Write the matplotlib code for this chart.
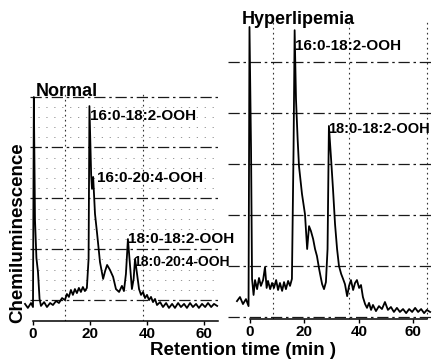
import matplotlib
matplotlib.use("Agg")
import matplotlib.pyplot as plt
import numpy as np

plt.rcParams['font.family'] = ['Liberation Sans', 'DejaVu Sans']
plt.rcParams['font.weight'] = 'bold'

# ---------------- data ----------------
normal_time = [-2.8, -1.8, -0.7, 0.0, 0.3, 0.7, 1.2, 1.75, 2.3, 2.8,
               3.9, 4.9, 6.0, 7.0, 8.1, 9.1, 10.2, 11.2, 11.9, 12.6,
               13.3, 14.0, 14.7, 15.4, 16.1, 16.8, 17.5, 18.2, 18.9, 19.5,
               19.8, 20.4, 20.7, 21.1, 21.75, 22.5, 23.5, 24.6, 25.3, 26.0,
               27.0, 28.1, 29.1, 30.2, 31.2, 31.9, 32.6, 33.3, 34.0, 34.7,
               35.3, 35.8, 36.5, 37.2, 37.9, 38.6, 39.3, 40.0, 40.7, 41.4,
               42.1, 42.8, 43.5, 44.6, 45.6, 46.7, 47.7, 48.8, 49.8, 50.9,
               51.9, 53.0, 54.0, 55.1, 56.1, 57.2, 58.2, 59.3, 60.4, 61.4,
               62.5, 63.5, 64.6]
normal_signal = [7.6, 5.8, 8.0, 6.2, 99.5, 45.0, 28.0, 21.8, 9.8, 6.7,
                 8.4, 6.2, 8.0, 7.1, 8.9, 8.0, 10.2, 9.3, 12.0, 10.7,
                 13.8, 11.6, 14.2, 12.4, 14.7, 12.9, 15.1, 13.3, 14.7, 27.6,
                 95.5, 65.0, 58.7, 64.0, 47.6, 38.7, 26.2, 18.7, 22.2, 24.9,
                 22.7, 19.6, 14.2, 12.9, 15.6, 13.3, 20.9, 36.4, 25.3, 14.2,
                 18.7, 27.6, 20.9, 14.2, 11.6, 12.9, 10.2, 11.6, 9.3, 10.7,
                 8.4, 9.8, 7.1, 8.4, 6.2, 8.0, 5.8, 7.6, 5.8, 8.0,
                 6.2, 7.6, 5.8, 8.0, 6.2, 7.6, 5.8, 7.6, 6.2, 8.0,
                 6.2, 7.6, 6.7]

hyper_time = [-4.8, -3.7, -2.6, -1.5, -0.55, -0.2, 0.37, 0.74, 1.3, 1.84,
              2.6, 3.3, 4.0, 4.8, 5.5, 6.1, 6.6, 7.4, 8.1, 8.8,
              9.6, 10.3, 11.0, 11.8, 12.5, 13.2, 14.0, 14.7, 15.4, 16.0,
              16.4, 16.9, 17.5, 18.0, 19.1, 20.2, 21.0, 21.7, 22.4, 23.2,
              23.9, 24.6, 25.4, 25.9, 26.5, 27.2, 27.9, 28.5, 29.0, 29.8,
              30.5, 31.25, 32.0, 32.7, 33.5, 34.2, 34.9, 35.7, 36.4, 37.1,
              37.9, 38.6, 39.3, 40.1, 40.8, 41.5, 42.3, 43.0, 43.75, 44.5,
              45.2, 46.3, 47.4, 48.5, 49.6, 50.7, 51.8, 52.9, 54.0, 55.1,
              56.25, 57.4, 58.5, 59.6, 60.7, 61.8, 62.9, 64.0, 65.0, 66.2]
hyper_signal = [6.1, 7.5, 5.1, 6.8, 4.4, 99.7, 58.0, 13.7, 8.2, 13.3,
                10.2, 14.0, 11.3, 13.3, 17.7, 10.6, 13.0, 10.2, 12.3, 10.6,
                13.3, 9.9, 12.3, 9.6, 12.6, 10.2, 13.0, 11.3, 13.7, 58.0,
                98.6, 75.0, 61.4, 52.2, 42.7, 35.8, 23.9, 31.7, 30.0, 27.3,
                23.9, 21.5, 17.1, 14.7, 11.9, 10.2, 12.6, 23.9, 65.9, 54.6,
                44.4, 32.4, 23.9, 18.1, 15.4, 13.7, 11.9, 7.8, 11.3, 13.3,
                9.9, 12.3, 13.3, 10.6, 11.6, 7.5, 5.1, 3.8, 5.5, 3.1,
                4.8, 2.7, 4.4, 3.4, 5.8, 3.1, 4.1, 2.4, 3.8, 2.4,
                3.4, 2.0, 3.4, 2.4, 3.8, 2.4, 3.4, 2.0, 3.1, 2.4]

x_ticks = [0, 20, 40, 60]
panel_titles = ["Normal", "Hyperlipemia"]
normal_peaks = ["16:0-18:2-OOH", "16:0-20:4-OOH", "18:0-18:2-OOH", "18:0-20:4-OOH"]
hyper_peaks = ["16:0-18:2-OOH", "18:0-18:2-OOH"]

# ---------------- figure ----------------
W, H = 432, 363
fig = plt.figure(figsize=(W / 100, H / 100), dpi=100)


def fax(l, t, r, b):
    return fig.add_axes([l / W, 1 - b / H, (r - l) / W, (b - t) / H])


def ftext(x, y, s, size, **kw):
    fig.text(x / W, 1 - y / H, s, fontsize=size, fontweight='bold',
             va='baseline', ha=kw.pop('ha', 'left'), **kw)


ax1 = fax(30, 91, 220, 321)
ax2 = fax(228, 22, 432, 319)

ax1.set_xlim(-1.05, 65.6)
ax1.set_ylim(0, 102.2)
ax2.set_xlim(-8.1, 66.9)
ax2.set_ylim(0, 101.4)

grid_major = dict(color='#1a1a1a', linewidth=0.9, linestyle=(0, (9, 3, 2, 3)))
grid_minor = dict(color='#555555', linewidth=0.6, linestyle=(0, (1.5, 8)),
                  alpha=0.7)
grid_vert = dict(color='#333333', linewidth=0.8, linestyle=(0, (1.5, 3)))

for ax, ymaj, yminstep, vlines in [
        (ax1, np.arange(9.3, 101, 22.6), 4.52, [11.2, 38.6]),
        (ax2, np.arange(0.7, 90, 17.4), 17.4, [8.5, 36.4, 65.0])]:
    for s in ['top', 'left', 'right']:
        ax.spines[s].set_visible(False)
    ax.spines['bottom'].set_linewidth(1.1)
    ax.spines['bottom'].set_bounds(0, 65)
    ax.set_yticks(ymaj)
    ax.set_yticks(np.arange(ymaj[0], ymaj[-1], yminstep), minor=True)
    ax.yaxis.grid(True, which='major', **grid_major)
    ax.yaxis.grid(True, which='minor', **grid_minor)
    ax.tick_params(axis='y', which='both', length=0, labelleft=False)
    ax.set_xticks(x_ticks)
    ax.set_xticks(vlines, minor=True)
    ax.xaxis.grid(True, which='minor', **grid_vert)
    ax.tick_params(axis='x', which='minor', length=0)
    ax.tick_params(axis='x', which='major', length=3, width=1, pad=1,
                   labelsize=11)
    for lab in ax.get_xticklabels():
        lab.set_fontweight('bold')
    ax.set_axisbelow(True)
    ax.patch.set_alpha(0)

ax1.plot(normal_time, normal_signal, color='black', linewidth=1.3,
         clip_on=False, zorder=3)
ax2.plot(hyper_time, hyper_signal, color='black', linewidth=1.3,
         clip_on=False, zorder=3)

# titles and peak labels
ftext(36, 96, panel_titles[0], 13)
ftext(242, 24, panel_titles[1], 13)
ftext(90, 120, normal_peaks[0], 11)
ftext(97, 182, normal_peaks[1], 11)
ftext(128, 243, normal_peaks[2], 11)
ftext(133, 266, normal_peaks[3], 10)
ftext(295, 50, hyper_peaks[0], 11)
ftext(328, 133, hyper_peaks[1], 10.5)

# axis titles
ftext(243, 355, "Retention time (min )", 13.5, ha='center')
fig.text(18 / W, 1 - 233 / H, "Chemiluminescence", rotation=90,
         fontsize=13.5, fontweight='bold', ha='center', va='center')

fig.savefig("out.png", dpi=100)
